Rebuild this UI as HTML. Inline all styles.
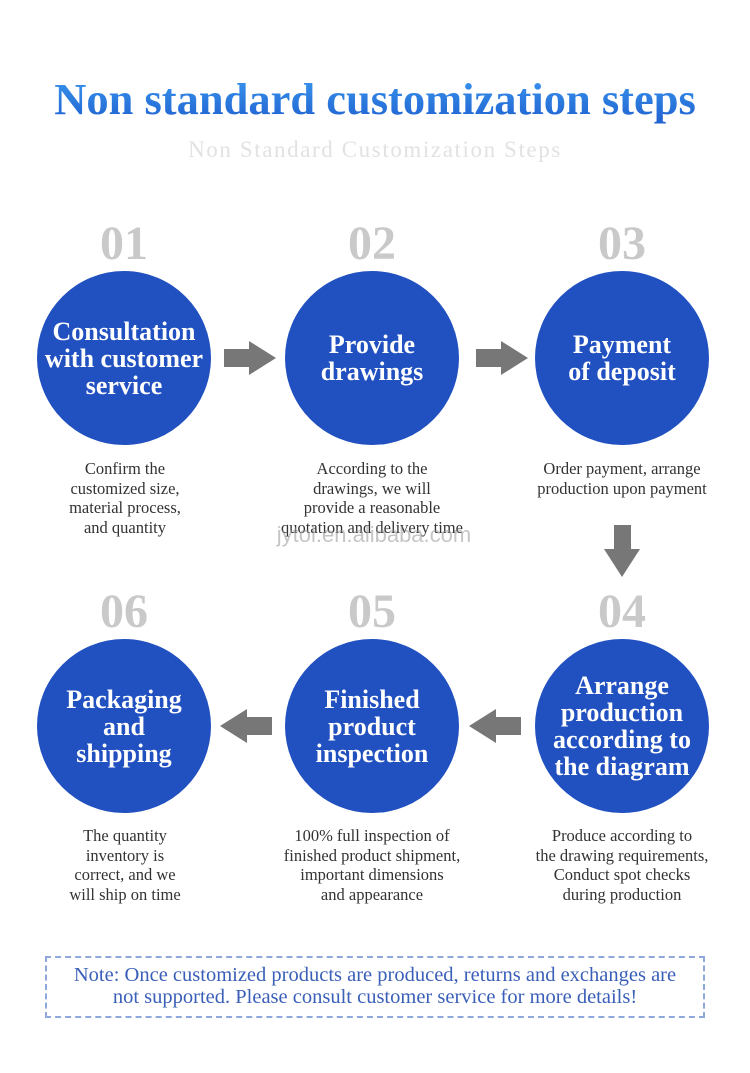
<!DOCTYPE html>
<html><head><meta charset="utf-8"><style>
body{margin:0;width:750px;height:1073px;background:#fff;position:relative;overflow:hidden;font-family:"Liberation Serif",serif}
.a{position:absolute}
.title{left:0;width:750px;top:73px;text-align:center;font-size:44.5px;font-weight:bold;color:#2a7fe0;background:linear-gradient(#3b9af0,#1f5fcf);-webkit-background-clip:text;background-clip:text;-webkit-text-fill-color:transparent;white-space:nowrap}
.sub{left:0;width:750px;top:137px;text-align:center;font-size:23px;color:#e2e2e2;letter-spacing:1.6px;white-space:nowrap}
.num{width:160px;text-align:center;font-size:48px;font-weight:bold;color:#c9c9c9}
.c{width:174px;height:174px;border-radius:50%;background:#2150c0;color:#fff;display:flex;align-items:center;justify-content:center;text-align:center;font-size:26px;font-weight:bold;line-height:27px;white-space:nowrap}
.d{width:240px;text-align:center;font-size:16.5px;color:#333;line-height:19.5px;white-space:nowrap}
.note{left:45px;top:956px;width:656px;height:52px;border:2px dashed #8fa8dc;color:#3a5fb8;font-size:20.5px;text-align:center;line-height:22px;padding-top:6px;box-sizing:content-box;white-space:nowrap}
</style></head><body>
<div class="a title">Non standard customization steps</div>
<div class="a sub">Non Standard Customization Steps</div>

<div class="a num" style="left:44px;top:216px">01</div>
<div class="a num" style="left:292px;top:216px">02</div>
<div class="a num" style="left:542px;top:216px">03</div>
<div class="a num" style="left:44px;top:584px">06</div>
<div class="a num" style="left:292px;top:584px">05</div>
<div class="a num" style="left:542px;top:584px">04</div>

<div class="a c" style="left:37px;top:271px">Consultation<br>with customer<br>service</div>
<div class="a c" style="left:285px;top:271px">Provide<br>drawings</div>
<div class="a c" style="left:535px;top:271px">Payment<br>of deposit</div>
<div class="a c" style="left:37px;top:639px">Packaging<br>and<br>shipping</div>
<div class="a c" style="left:285px;top:639px">Finished<br>product<br>inspection</div>
<div class="a c" style="left:535px;top:639px">Arrange<br>production<br>according to<br>the diagram</div>

<div class="a d" style="left:5px;top:459px">Confirm the<br>customized size,<br>material process,<br>and quantity</div>
<div class="a d" style="left:252px;top:459px">According to the<br>drawings, we will<br>provide a reasonable<br>quotation and delivery time</div>
<div class="a d" style="left:502px;top:459px">Order payment, arrange<br>production upon payment</div>
<div class="a d" style="left:5px;top:826px">The quantity<br>inventory is<br>correct, and we<br>will ship on time</div>
<div class="a d" style="left:252px;top:826px">100% full inspection of<br>finished product shipment,<br>important dimensions<br>and appearance</div>
<div class="a d" style="left:502px;top:826px">Produce according to<br>the drawing requirements,<br>Conduct spot checks<br>during production</div>

<div class="a" style="left:262px;top:522px;width:224px;text-align:center;font-family:'Liberation Sans',sans-serif;font-size:22px;color:rgba(150,150,150,0.55)">jytoi.en.alibaba.com</div>

<svg class="a" style="left:0;top:0" width="750" height="1073">
<g fill="#777">
<polygon points="224,349 249,349 249,341 276,358 249,375 249,367 224,367"/>
<polygon points="476,349 501,349 501,341 528,358 501,375 501,367 476,367"/>
<polygon points="614,525 631,525 631,549 640,549 622,577 604,549 614,549"/>
<polygon points="521,717 496,717 496,709 469,726 496,743 496,735 521,735"/>
<polygon points="272,717 247,717 247,709 220,726 247,743 247,735 272,735"/>
</g></svg>

<div class="a note">Note: Once customized products are produced, returns and exchanges are<br>not supported. Please consult customer service for more details!</div>
</body></html>
